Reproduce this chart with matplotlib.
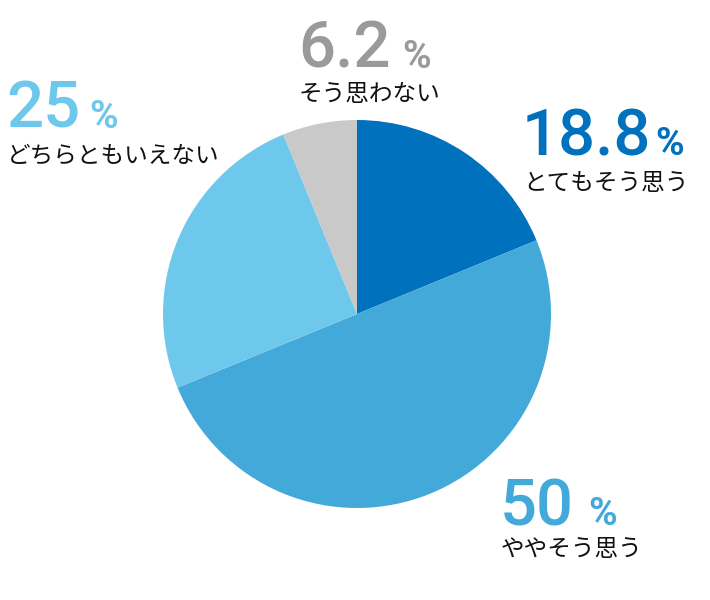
import matplotlib
matplotlib.use("Agg")
import matplotlib.pyplot as plt

# data
labels = ["とてもそう思う", "ややそう思う", "どちらともいえない", "そう思わない"]
values = [18.8, 50, 25, 6.2]
value_text = ["18.8", "50", "25", "6.2"]
colors = ["#0071bc", "#43a9d9", "#6ec8ec", "#c9c9c9"]
text_colors = ["#0071bc", "#43a9d9", "#6ec8ec", "#9a9a9a"]

# label placement in pixels (number left, number baseline, % left, caption top)
label_pos = [(522, 155, 655, 172), (500, 525, 588, 538),
             (6, 128, 89, 145), (298, 68, 402, 83)]

W, H = 710, 600

fig = plt.figure(figsize=(W / 100, H / 100), dpi=100)
cx, cy, r = 357, 314, 194
ax = fig.add_axes([(cx - r) / W, (H - cy - r) / H, 2 * r / W, 2 * r / H])
ax.pie(values, colors=colors, startangle=90, counterclock=False, radius=1,
       wedgeprops=dict(linewidth=0))
ax.set_xlim(-1, 1)
ax.set_ylim(-1, 1)
ax.set_aspect("equal")
ax.axis("off")

def fx(x):
    return x / W

def fy(y):
    return 1 - y / H

for lab, vt, col, (nx, ny, px, ty) in zip(labels, value_text, text_colors, label_pos):
    fig.text(fx(nx), fy(ny), vt, color=col, fontsize=47, family="Roboto",
             fontweight=500, va="baseline", ha="left")
    fig.text(fx(px), fy(ny), "%", color=col, fontsize=28, family="Roboto",
             fontweight="bold", va="baseline", ha="left")
    fig.text(fx(nx + 1), fy(ty), lab, color="#111111", fontsize=17,
             family=["Noto Sans CJK JP", "DejaVu Sans"], va="top", ha="left")

fig.savefig("out.png", dpi=100)
